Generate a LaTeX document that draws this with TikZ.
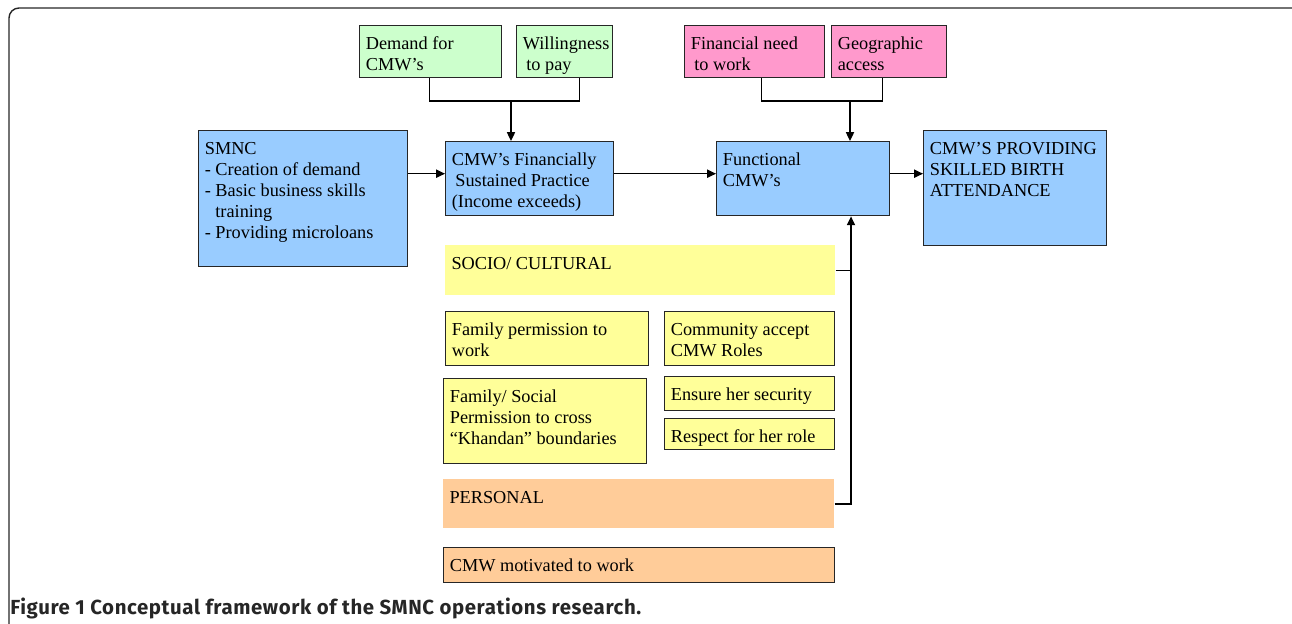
\documentclass[tikz,border=0pt]{standalone}
\usepackage{fontspec}
\setmainfont{Liberation Serif}
\newfontfamily\capfont[LetterSpace=3]{Fira Sans}
\usepackage{tikz}
\usetikzlibrary{arrows.meta}

\definecolor{boxblue}{HTML}{99CCFF}
\definecolor{boxgreen}{HTML}{CCFFCC}
\definecolor{boxpink}{HTML}{FF99CC}
\definecolor{boxyellow}{HTML}{FFFF99}
\definecolor{boxorange}{HTML}{FFCC99}

\newcommand{\boxtext}[3]{\parbox[t][#2][t]{#1}{\raggedright\leftskip=3.5pt\rule{0pt}{13.5pt}#3}}

\begin{document}
\begin{tikzpicture}[x=0.02cm, y=-0.02cm,
    every node/.style={inner sep=0pt, anchor=north west, font=\fontsize{10.4}{11.9}\selectfont},
    blk/.style={draw=black!85, line width=0.8pt},
    arr/.style={-{Triangle[length=5pt,width=4.6pt]}, line width=0.8pt},
    lnk/.style={line width=0.8pt}]

    \useasboundingbox (0,0) rectangle (1292,624);
    \begin{scope}
      \clip (0,0) rectangle (1292,624);
      \draw[line width=0.8pt, black!85, rounded corners=0.2cm] (9,8) rectangle (1330,680);
    \end{scope}

    \node[blk,fill=boxgreen]    (dem) at (359,25)    {\boxtext{2.84cm}{1.04cm}{Demand for\\CMW's}};
    \node[blk,fill=boxgreen]    (wil) at (516,25)    {\boxtext{1.92cm}{1.04cm}{Willingness\\\hspace*{2pt}to pay}};
    \node[blk,fill=boxpink]     (fin) at (684,25)    {\boxtext{2.80cm}{1.04cm}{Financial need\\\hspace*{2pt}to work}};
    \node[blk,fill=boxpink]     (geo) at (831,25)    {\boxtext{2.30cm}{1.04cm}{Geographic\\access}};
    \node[blk,fill=boxblue]     (smnc) at (198,130)  {\boxtext{4.18cm}{2.72cm}{SMNC\\- Creation of demand\\- Basic business skills\\\hspace*{6pt}training\\- Providing microloans}};
    \node[blk,fill=boxblue]     (sus) at (445,141)   {\boxtext{3.36cm}{1.48cm}{CMW's Financially\\\hspace*{2pt}Sustained Practice\\(Income exceeds)}};
    \node[blk,fill=boxblue]     (fun) at (716,141)   {\boxtext{3.46cm}{1.48cm}{Functional\\CMW's}};
    \node[blk,fill=boxblue]     (sba) at (923,130)   {\boxtext{3.66cm}{2.30cm}{CMW'S PROVIDING\\SKILLED BIRTH\\ATTENDANCE}};
    \node[fill=boxyellow]       (soc) at (445,245)   {\boxtext{7.80cm}{1.00cm}{SOCIO/ CULTURAL}};
    \node[blk,fill=boxyellow]   (fam) at (445,311)   {\boxtext{4.06cm}{1.08cm}{Family permission to\\work}};
    \node[blk,fill=boxyellow]   (com) at (664,311)   {\boxtext{3.40cm}{1.08cm}{Community accept\\CMW Roles}};
    \node[blk,fill=boxyellow]   (cross) at (443,378) {\boxtext{4.06cm}{1.70cm}{Family/ Social\\Permission to cross\\``Khandan'' boundaries}};
    \node[blk,fill=boxyellow]   (sec) at (664,376)   {\boxtext{3.40cm}{0.68cm}{Ensure her security}};
    \node[blk,fill=boxyellow]   (res) at (664,418)   {\boxtext{3.40cm}{0.62cm}{Respect for her role}};
    \node[fill=boxorange]       (per) at (443,479)   {\boxtext{7.82cm}{0.98cm}{PERSONAL}};
    \node[blk,fill=boxorange]   (mot) at (443,547)   {\boxtext{7.82cm}{0.70cm}{CMW motivated to work}};
    \node[anchor=base west, font=\capfont\bfseries\fontsize{11.6}{13}\selectfont, text=black!85] (cap) at (10,615) {Figure 1 Conceptual framework of the SMNC operations research.};

    \coordinate (gj) at (511,101);
    \coordinate (pj) at (850,101);
    \coordinate (bus) at (851,503);

    \draw[lnk] ([xshift=-0.02cm]dem.south) |- (gj) -| ([xshift=0.3cm]wil.south);
    \draw[lnk] ([xshift=0.14cm]fin.south) |- (pj) -| ([xshift=-0.13cm]geo.south);
    \draw[arr] (gj) -- (gj |- sus.north);
    \draw[arr] (pj) -- (pj |- fun.north);
    \draw[arr] ([yshift=0.1cm]sus.west -| smnc.east) -- ([yshift=0.1cm]sus.west);
    \draw[arr] ([yshift=0.1cm]sus.east) -- ([yshift=0.1cm]fun.west);
    \draw[arr] ([yshift=0.1cm]fun.east) -- ([yshift=0.1cm]fun.east -| sba.west);
    \draw[lnk] (soc.east) -- (soc.east -| bus);
    \draw[arr] (per.east) -| (fun.south -| bus);
  \end{tikzpicture}
\end{document}
